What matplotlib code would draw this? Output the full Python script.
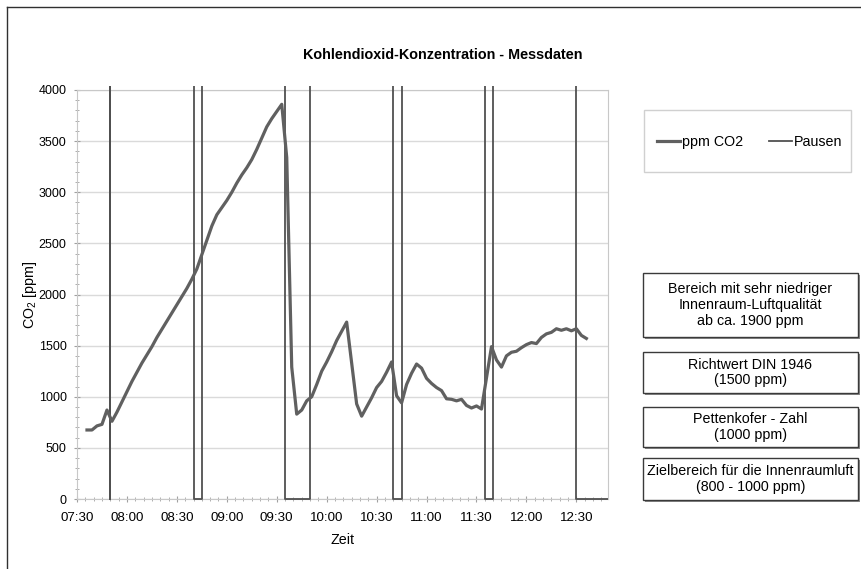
import matplotlib
matplotlib.use("Agg")
import matplotlib.pyplot as plt
from matplotlib.lines import Line2D
from matplotlib.patches import Rectangle

plt.rcParams['font.family'] = ['Liberation Sans', 'DejaVu Sans']
plt.rcParams['mathtext.default'] = 'regular'

# measured CO2 values (time of day, ppm)
co2_times = ["07:36", "07:39", "07:42", "07:45", "07:48", "07:51", "07:54", "07:57",
             "08:00", "08:03", "08:06", "08:09", "08:12", "08:15", "08:18", "08:21",
             "08:24", "08:27", "08:30", "08:33", "08:36", "08:39", "08:42", "08:45",
             "08:48", "08:51", "08:54", "08:57", "09:00", "09:03", "09:06", "09:09",
             "09:12", "09:15", "09:18", "09:21", "09:24", "09:27", "09:30", "09:33",
             "09:36", "09:39", "09:42", "09:45", "09:48", "09:51", "09:54", "09:57",
             "10:00", "10:03", "10:06", "10:09", "10:12", "10:18", "10:21", "10:24",
             "10:27", "10:30", "10:33", "10:36", "10:39", "10:42", "10:45", "10:48",
             "10:51", "10:54", "10:57", "11:00", "11:03", "11:06", "11:09", "11:12",
             "11:15", "11:18", "11:21", "11:24", "11:27", "11:30", "11:33", "11:39",
             "11:42", "11:45", "11:48", "11:51", "11:54", "11:57", "12:00", "12:03",
             "12:06", "12:09", "12:12", "12:15", "12:18", "12:21", "12:24", "12:27",
             "12:30", "12:33", "12:36"]
co2_ppm = [675, 675, 715, 730, 870, 760, 850, 950,
           1050, 1150, 1240, 1330, 1410, 1490, 1580, 1660,
           1740, 1820, 1900, 1980, 2060, 2150, 2250, 2390,
           2530, 2670, 2780, 2850, 2920, 3000, 3090, 3170,
           3240, 3320, 3420, 3530, 3640, 3720, 3790, 3860,
           3340, 1290, 830, 870, 960, 1000, 1120, 1250,
           1340, 1440, 1550, 1640, 1730, 930, 810, 900,
           990, 1090, 1150, 1240, 1340, 1010, 940, 1120,
           1230, 1320, 1280, 1180, 1130, 1090, 1060, 980,
           975, 960, 975, 915, 890, 910, 880, 1490,
           1360, 1290, 1400, 1435, 1445, 1480, 1510, 1530,
           1520, 1580, 1615, 1630, 1665, 1650, 1665, 1645,
           1665, 1600, 1570]

# breaks (start, end)
pause_start = ["07:50", "08:40", "09:35", "10:40", "11:35", "12:30"]
pause_end = ["07:50", "08:45", "09:50", "10:45", "11:40", "12:55"]
pause_high = 5000

tick_labels = ["07:30", "08:00", "08:30", "09:00", "09:30", "10:00",
               "10:30", "11:00", "11:30", "12:00", "12:30"]

info_boxes = ["Bereich mit sehr niedriger\nInnenraum-Luftqualität\nab ca. 1900 ppm",
              "Richtwert DIN 1946\n(1500 ppm)",
              "Pettenkofer - Zahl\n(1000 ppm)",
              "Zielbereich für die Innenraumluft\n(800 - 1000 ppm)"]


def hours(s):
    h, m = s.split(":")
    return int(h) + int(m) / 60.0


W, H = 862, 569


def fx(x):
    return x / W


def fy(y):
    return 1 - y / H


fig = plt.figure(figsize=(W / 100, H / 100), dpi=100)
ax = fig.add_axes([fx(77), fy(499), fx(608) - fx(77), fy(90) - fy(499)])

# pause step line
px, py = [], []
for s, e in zip(pause_start, pause_end):
    px += [hours(s), hours(s), hours(e), hours(e)]
    py += [pause_high, 0, 0, pause_high]
pline, = ax.plot(px, py, color='#505050', lw=1.3, zorder=3)
clip = Rectangle((0, -0.01), 1, 1.02, transform=ax.transAxes, visible=False)
ax.add_patch(clip)
pline.set_clip_path(clip)

ax.plot([hours(t) for t in co2_times], co2_ppm, color='#606060', lw=2.3,
        solid_joinstyle='round', zorder=4)

ax.set_xlim(hours("07:30"), hours("12:49"))
ax.set_ylim(0, 4000)
ax.set_yticks(range(0, 4001, 500))
ax.set_yticks(range(0, 4001, 100), minor=True)
ax.set_xticks([hours(t) for t in tick_labels])
ax.set_xticklabels(tick_labels)
ax.set_xticks([7.5 + i / 12 for i in range(64)], minor=True)
ax.grid(axis='y', color='#dadada', lw=1)
ax.set_axisbelow(True)
for sp in ax.spines.values():
    sp.set_color('#c8c8c8')
ax.tick_params(which='both', direction='inout', colors='#a0a0a0', labelcolor='black')
ax.tick_params(which='major', length=5)
ax.tick_params(which='minor', length=3)
ax.tick_params(axis='x', pad=7, labelsize=9.6)
ax.tick_params(axis='y', pad=5, labelsize=9)

ax.set_xlabel("Zeit", fontsize=10.3, labelpad=6)
ax.set_ylabel("CO$_2$ [ppm]", fontsize=10.3)
ax.yaxis.set_label_coords(-0.072, 0.5)

fig.text(fx(443), fy(55), "Kohlendioxid-Konzentration - Messdaten", ha='center',
         va='center', fontsize=10.4, fontweight='bold')

# legend
fig.add_artist(Rectangle((fx(644), fy(172)), fx(851) - fx(644), fy(110) - fy(172),
                         transform=fig.transFigure, facecolor='white',
                         edgecolor='#d0d0d0', lw=1))
handles = [Line2D([], [], color='#606060', lw=2.3), Line2D([], [], color='#505050', lw=1.3)]
fig.legend(handles, ["ppm CO2", "Pausen"], loc='center', ncol=2, frameon=False,
           bbox_to_anchor=(fx(750), fy(142)), fontsize=10.3, handlelength=1.6,
           handletextpad=0.15, columnspacing=1.8)

# info boxes (with a faint shadow on the lower right)
box_rows = [(273, 337), (352, 393), (407, 447), (458, 500)]
for txt, (y0, y1) in zip(info_boxes, box_rows):
    fig.add_artist(Rectangle((fx(644.5), fy(y1 + 1.5)), fx(858) - fx(643), fy(y0) - fy(y1),
                             transform=fig.transFigure, facecolor='#8a8a8a',
                             edgecolor='none'))
    fig.add_artist(Rectangle((fx(643), fy(y1)), fx(858) - fx(643), fy(y0) - fy(y1),
                             transform=fig.transFigure, facecolor='white',
                             edgecolor='#3a3a3a', lw=1.0))
    fig.text(fx(750.5), fy((y0 + y1) / 2), txt, ha='center', va='center',
             fontsize=10.3, linespacing=1.15)

# outer frame (left and top edges visible)
fig.add_artist(Line2D([fx(7), fx(7)], [fy(7), 0], transform=fig.transFigure,
                      color='#303030', lw=1))
fig.add_artist(Line2D([fx(7), 1], [fy(7), fy(7)], transform=fig.transFigure,
                      color='#303030', lw=1))

fig.savefig("out.png", dpi=100)
